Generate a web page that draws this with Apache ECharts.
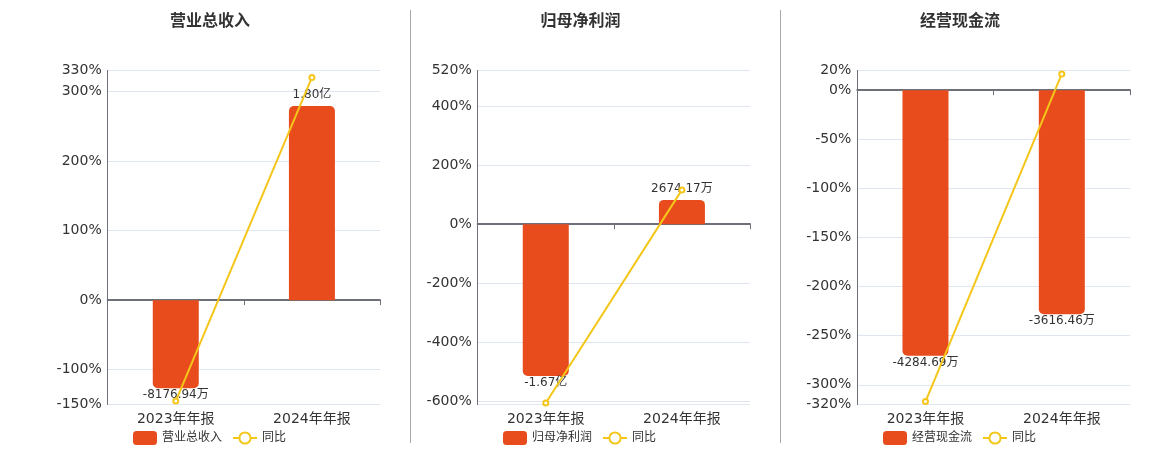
<!DOCTYPE html>
<html><head><meta charset="utf-8">
<script src="https://cdn.jsdelivr.net/npm/echarts@6/dist/echarts.min.js"></script>
<style>html,body{margin:0;padding:0;background:#fff}#c{width:1160px;height:450px}</style>
</head><body><div id="c"></div>
<script>
// ---- data ----
const categories = ['2023年年报', '2024年年报'];
const panelTitles = ['营业总收入', '归母净利润', '经营现金流'];
const yoyName = '同比';
// bar values in 万元
const revenueValues = [-8176.94, 18000];
const netProfitValues = [-16700, 2674.17];
const cashFlowValues = [-4284.69, -3616.46];
// 同比 (%)
const revenueYoY = [-145, 320];
const netProfitYoY = [-605, 116];
const cashFlowYoY = [-317, 16.5];
// percent axis extents
const pctAxisMin = [-150, -610, -320];
const pctAxisMax = [330, 520, 20];

// ---- layout / style ----
const barValues = [revenueValues, netProfitValues, cashFlowValues];
const yoyValues = [revenueYoY, netProfitYoY, cashFlowYoY];
const barScale = [64.5, 32.5, 15.85]; // 万 per % on hidden bar axis
const layout = [
  { left: 107.7, width: 272.3, center: 210, legendLeft: 133 },
  { left: 477.7, width: 272.3, center: 580.5, legendLeft: 503 },
  { left: 857.3, width: 272.7, center: 960, legendLeft: 883 }
];
const BAR_COLOR = '#E84C1D';
const LINE_COLOR = '#F4C61A';
const FONT = 'DejaVu Sans, Noto Sans CJK SC, sans-serif';

function fmtMoney(v) {
  if (Math.abs(v) >= 10000) return (v / 10000).toFixed(2) + '亿';
  return v.toFixed(2) + '万';
}

const option = {
  animation: false,
  textStyle: { fontFamily: FONT },
  title: [], grid: [], xAxis: [], yAxis: [], series: [], legend: [],
  graphic: [
    { type: 'line', shape: { x1: 410.5, y1: 10, x2: 410.5, y2: 443 }, style: { stroke: '#aaaaaa', lineWidth: 1 } },
    { type: 'line', shape: { x1: 780.5, y1: 10, x2: 780.5, y2: 443 }, style: { stroke: '#aaaaaa', lineWidth: 1 } }
  ]
};

for (let p = 0; p < 3; p++) {
  const L = layout[p];
  option.title.push({
    text: panelTitles[p], left: L.center, top: 14, textAlign: 'center', padding: 0,
    textStyle: { fontSize: 16, fontWeight: 'bold', color: '#333', fontFamily: FONT }
  });
  option.grid.push({ left: L.left, width: L.width, top: 70.5, height: 334 });
  const yPct = option.yAxis.length;
  option.yAxis.push({
    type: 'value', gridIndex: p, position: 'left',
    min: pctAxisMin[p], max: pctAxisMax[p],
    axisLine: { show: true, lineStyle: { color: '#6E7079', width: 1 } },
    axisTick: { show: false },
    axisLabel: {
      formatter: '{value}%', fontSize: 14, color: '#333', margin: 6, fontFamily: FONT,
      showMinLabel: p !== 1
    },
    splitLine: { show: true, lineStyle: { color: '#E0E6F1' } }
  });
  const yBar = option.yAxis.length;
  option.yAxis.push({
    type: 'value', gridIndex: p, position: 'right', show: false,
    min: pctAxisMin[p] * barScale[p], max: pctAxisMax[p] * barScale[p],
    splitLine: { show: false }
  });
  const xZero = option.xAxis.length;
  option.xAxis.push({
    type: 'category', gridIndex: p, position: 'bottom', data: categories,
    axisLine: { show: true, onZero: true, onZeroAxisIndex: yPct, lineStyle: { color: '#6E7079', width: 2 } },
    axisTick: { show: true, length: 5, lineStyle: { color: '#6E7079' } },
    axisLabel: { show: false }, splitLine: { show: false }
  });
  const xLab = option.xAxis.length;
  option.xAxis.push({
    type: 'category', gridIndex: p, position: 'bottom', data: categories,
    axisLine: { show: false, onZero: false }, axisTick: { show: false },
    axisLabel: { show: true, fontSize: 14, color: '#333', margin: 8, fontFamily: FONT },
    splitLine: { show: false }
  });
  option.series.push({
    type: 'bar', name: panelTitles[p], xAxisIndex: xLab, yAxisIndex: yBar,
    barWidth: 46, itemStyle: { color: BAR_COLOR },
    label: {
      show: true, position: 'outside', color: '#333', fontSize: 12, fontFamily: FONT,
      formatter: (d) => fmtMoney(d.value)
    },
    data: barValues[p].map(v => ({
      value: v,
      label: { distance: v >= 0 ? 5 : 1 },
      itemStyle: { borderRadius: v >= 0 ? [5, 5, 0, 0] : [0, 0, 5, 5] }
    })),
    z: 2
  });
  option.series.push({
    type: 'line', name: yoyName, xAxisIndex: xZero, yAxisIndex: yPct,
    symbol: 'emptyCircle', symbolSize: 5,
    lineStyle: { color: LINE_COLOR, width: 2 },
    itemStyle: { color: LINE_COLOR, borderWidth: 1.5 },
    data: yoyValues[p], z: 3
  });
  option.legend.push({
    left: L.legendLeft, top: 431, padding: 0, itemGap: 10,
    itemWidth: 24, itemHeight: 14,
    textStyle: { fontSize: 12, color: '#333', fontFamily: FONT },
    data: [
      { name: panelTitles[p], icon: 'roundRect' },
      { name: yoyName }
    ]
  });
}

const chart = echarts.init(document.getElementById('c'));
chart.setOption(option);
</script>
</body></html>
